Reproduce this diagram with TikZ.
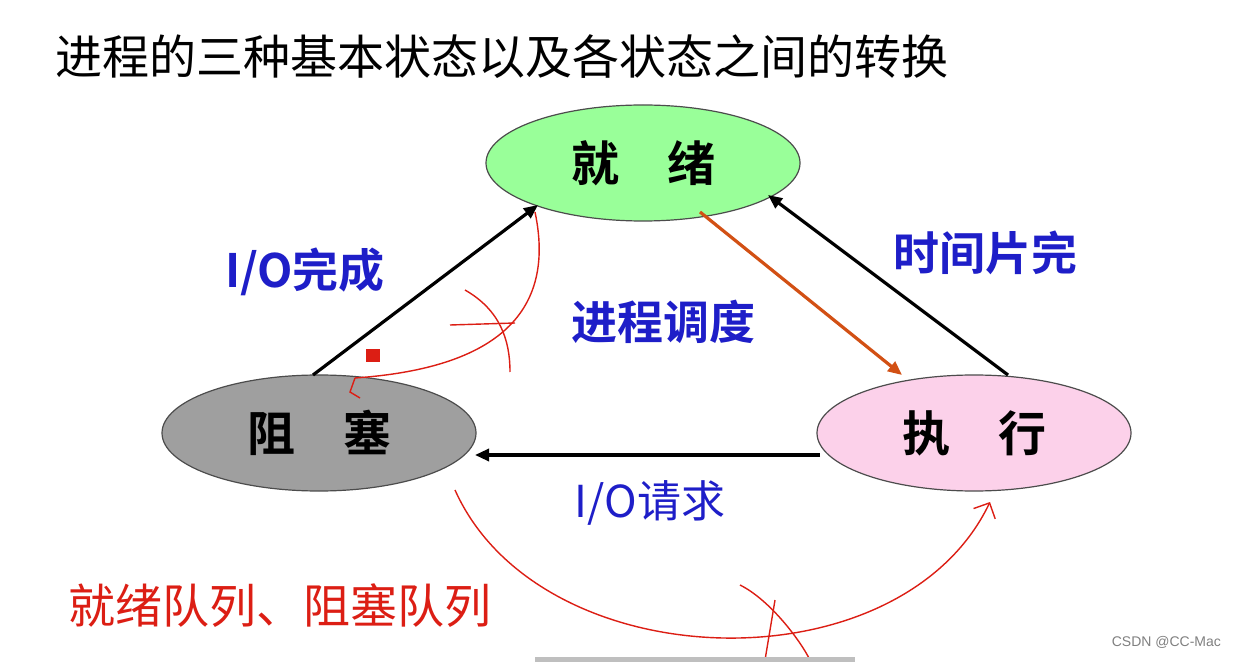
\documentclass[tikz,border=0pt]{standalone}
\usepackage{fontspec}
\setmainfont{Liberation Sans}
\newfontfamily\cjk{Noto Sans CJK SC}
\newfontfamily\cjkb{Noto Sans CJK SC Bold}
\usetikzlibrary{arrows.meta,shapes.geometric}
\definecolor{hand}{RGB}{220,30,20}
\definecolor{lblue}{RGB}{30,30,200}
\definecolor{sched}{RGB}{210,80,20}
\begin{document}
\begin{tikzpicture}[x=0.5pt,y=-0.5pt,
  st/.style={draw=black!70,line width=0.6pt,ellipse,minimum width=157pt,minimum height=58pt,font=\cjkb\fontsize{24}{24}\selectfont},
  lab/.style={text=lblue,font=\cjkb\fontsize{23}{23}\selectfont},
  arr/.style={line width=1.6pt,-{Triangle[length=7pt,width=6pt]}},
  rl/.style={draw=hand,line width=0.7pt}]
\useasboundingbox (0,0) rectangle (1236,662);
\fill[white] (0,0) rectangle (1236,662);
\node[anchor=west,font=\cjk\fontsize{23.5}{23.5}\selectfont] (title) at (48,57) {进程的三种基本状态以及各状态之间的转换};
\node[st,fill=green!40!white] (ready) at (643,163) {就\quad 绪};
\node[st,fill=gray!75] (block) at (319,433) {阻\quad 塞};
\node[st,fill=magenta!18] (run) at (974,433) {执\quad 行};
\coordinate (b1) at (313,375); \coordinate (r1) at (538,205);
\coordinate (x1) at (1008,375); \coordinate (r2) at (768,195);
\coordinate (r3) at (700,212); \coordinate (x2) at (902,375);
\coordinate (x3) at (820,455); \coordinate (b2) at (475,455);
\draw[arr] (b1) -- (r1);
\draw[arr] (x1) -- (r2);
\draw[arr,draw=sched,fill=sched] (r3) -- (x2);
\draw[arr] (x3) -- (b2);
\node[lab] (l1) at (305,272) {I/O完成};
\node[lab] (l2) at (985,253) {时间片完};
\node[lab] (l3) at (663,322) {进程调度};
\node[lab,font=\cjk\fontsize{22}{22}\selectfont] (l4) at (650,503) {I/O请求};
\node[text=hand,font=\cjk\fontsize{23.5}{23.5}\selectfont] (q) at (280,606) {就绪队列、阻塞队列};
\node[text=gray,font=\fontsize{7}{7}\selectfont,anchor=east] (csdn) at (1228,642) {CSDN @CC-Mac};
\coordinate (c1) at (355,378); \coordinate (c2) at (535,212);
\draw[rl] (c1) .. controls (470,370) and (560,330) .. (c2);
\draw[rl] (c1) -- (350,392) -- (360,398);
\draw[rl] (450,325) -- (515,323);
\draw[rl] (465,290) .. controls (500,310) and (510,340) .. (510,372);
\fill[hand] (366,349) rectangle (380,362);
\coordinate (d1) at (455,490); \coordinate (d2) at (990,502);
\draw[rl,-{Straight Barb[length=6pt]}] (d1) .. controls (540,680) and (900,690) .. (d2);
\draw[rl] (740,585) .. controls (770,600) and (800,640) .. (810,660);
\draw[rl] (775,600) -- (765,660);
\fill[gray!50] (535,657) rectangle (855,662);
\end{tikzpicture}
\end{document}
